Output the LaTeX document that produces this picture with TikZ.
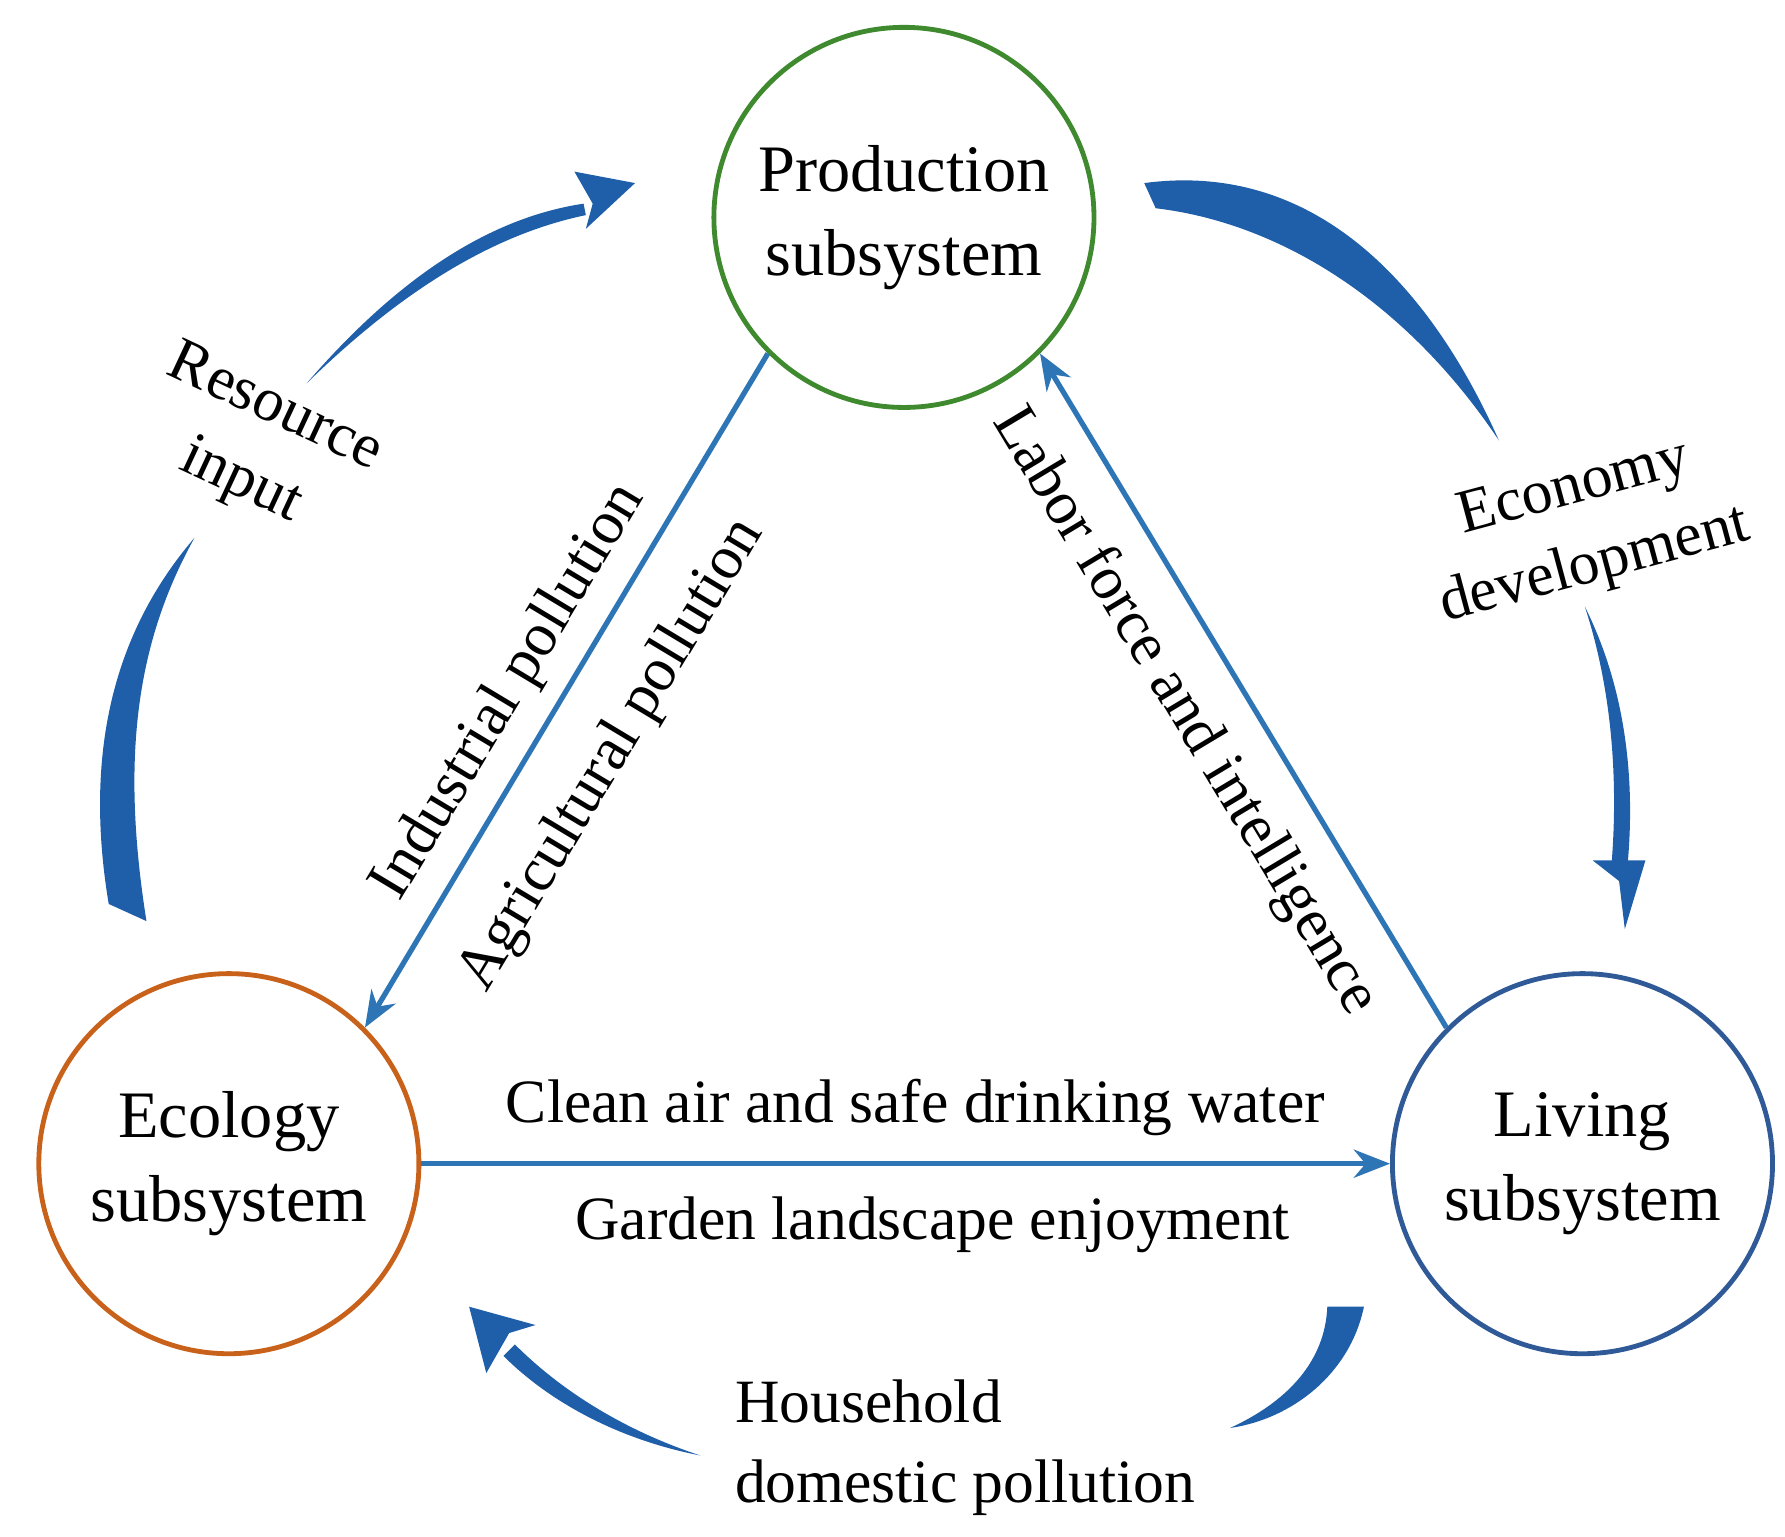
\documentclass[tikz,border=0pt]{standalone}
\usepackage{fontspec}
\setmainfont{Liberation Serif}
\usetikzlibrary{arrows.meta}
\definecolor{lineblue}{HTML}{2E75B6}
\definecolor{swoosh}{HTML}{1F5FAA}
\definecolor{prodgreen}{HTML}{3F8A2E}
\definecolor{ecoorange}{HTML}{C8611A}
\definecolor{livblue}{HTML}{2F5A97}
\tikzset{
  sub/.style={circle,draw,line width=1.2pt,minimum size=3.32cm,align=center,
    font=\fontsize{16.5}{21}\selectfont},
  flow/.style={draw=lineblue,line width=1.3pt,-{Stealth[length=9pt,width=7pt]}},
  lab/.style={font=\fontsize{15.3}{20}\selectfont,align=center},
  band/.style={fill=swoosh,draw=none}
}
\begin{document}
\begin{tikzpicture}[x=0.01cm,y=-0.01cm]
  \useasboundingbox (0,0) rectangle (1560,1343);
  % subsystems
  \node[sub,draw=prodgreen] (P) at (790,190) {Production\\subsystem};
  \node[sub,draw=ecoorange] (E) at (200,1017) {Ecology\\subsystem};
  \node[sub,draw=livblue] (L) at (1383,1017) {Living\\subsystem};

  % straight flows
  \draw[flow] (P.225) -- (E.45);
  \draw[flow] (L.135) -- (P.-45);
  \draw[flow] (E.east) -- (L.west);

  \node[lab,rotate=59] (ip) at (445,605) {Industrial pollution};
  \node[lab,rotate=59] (ap) at (535,660) {Agricultural pollution};
  \node[lab,rotate=-59] (lf) at (1035,622) {Labor force and intelligence};
  \node[lab] (ca) at (800,968) {Clean air and safe drinking water};
  \node[lab] (gl) at (815,1070) {Garden landscape enjoyment};

  % resource input
  \fill[band] (95,790) .. controls (70,640) and (110,540) .. (170,470)
    .. controls (120,560) and (105,660) .. (128,805) -- cycle;
  \fill[band] (268,335) .. controls (350,240) and (430,190) .. (510,178)
    -- (512,188) .. controls (430,205) and (350,255) .. (268,335) -- cycle;
  \fill[band] (502,150) -- (555,160) -- (512,200) -- (518,178) -- cycle;
  \node[lab,rotate=-25] (ri) at (225,390) {Resource\\input};

  % economy development
  \fill[band] (1000,160) .. controls (1150,140) and (1250,250) .. (1310,385)
    .. controls (1230,265) and (1120,195) .. (1010,182) -- cycle;
  \fill[band] (1385,530) .. controls (1420,600) and (1430,680) .. (1422,760)
    -- (1408,760) .. controls (1415,680) and (1408,600) .. (1385,530) -- cycle;
  \fill[band] (1392,752) -- (1438,752) -- (1420,812) -- (1415,770) -- cycle;
  \node[lab,rotate=15] (ed) at (1385,462) {Economy\\development};

  % household domestic pollution
  \fill[band] (1160,1142) -- (1192,1142) .. controls (1180,1200) and (1130,1240) .. (1075,1248)
    .. controls (1125,1225) and (1158,1190) .. (1160,1142) -- cycle;
  \fill[band] (612,1272) .. controls (540,1258) and (480,1225) .. (440,1185)
    -- (450,1175) .. controls (490,1215) and (545,1250) .. (612,1272) -- cycle;
  \fill[band] (410,1142) -- (468,1158) -- (445,1165) -- (425,1200) -- cycle;
  \node[lab,anchor=west,align=left] (hd) at (630,1265) {Household\\domestic pollution};
\end{tikzpicture}
\end{document}
